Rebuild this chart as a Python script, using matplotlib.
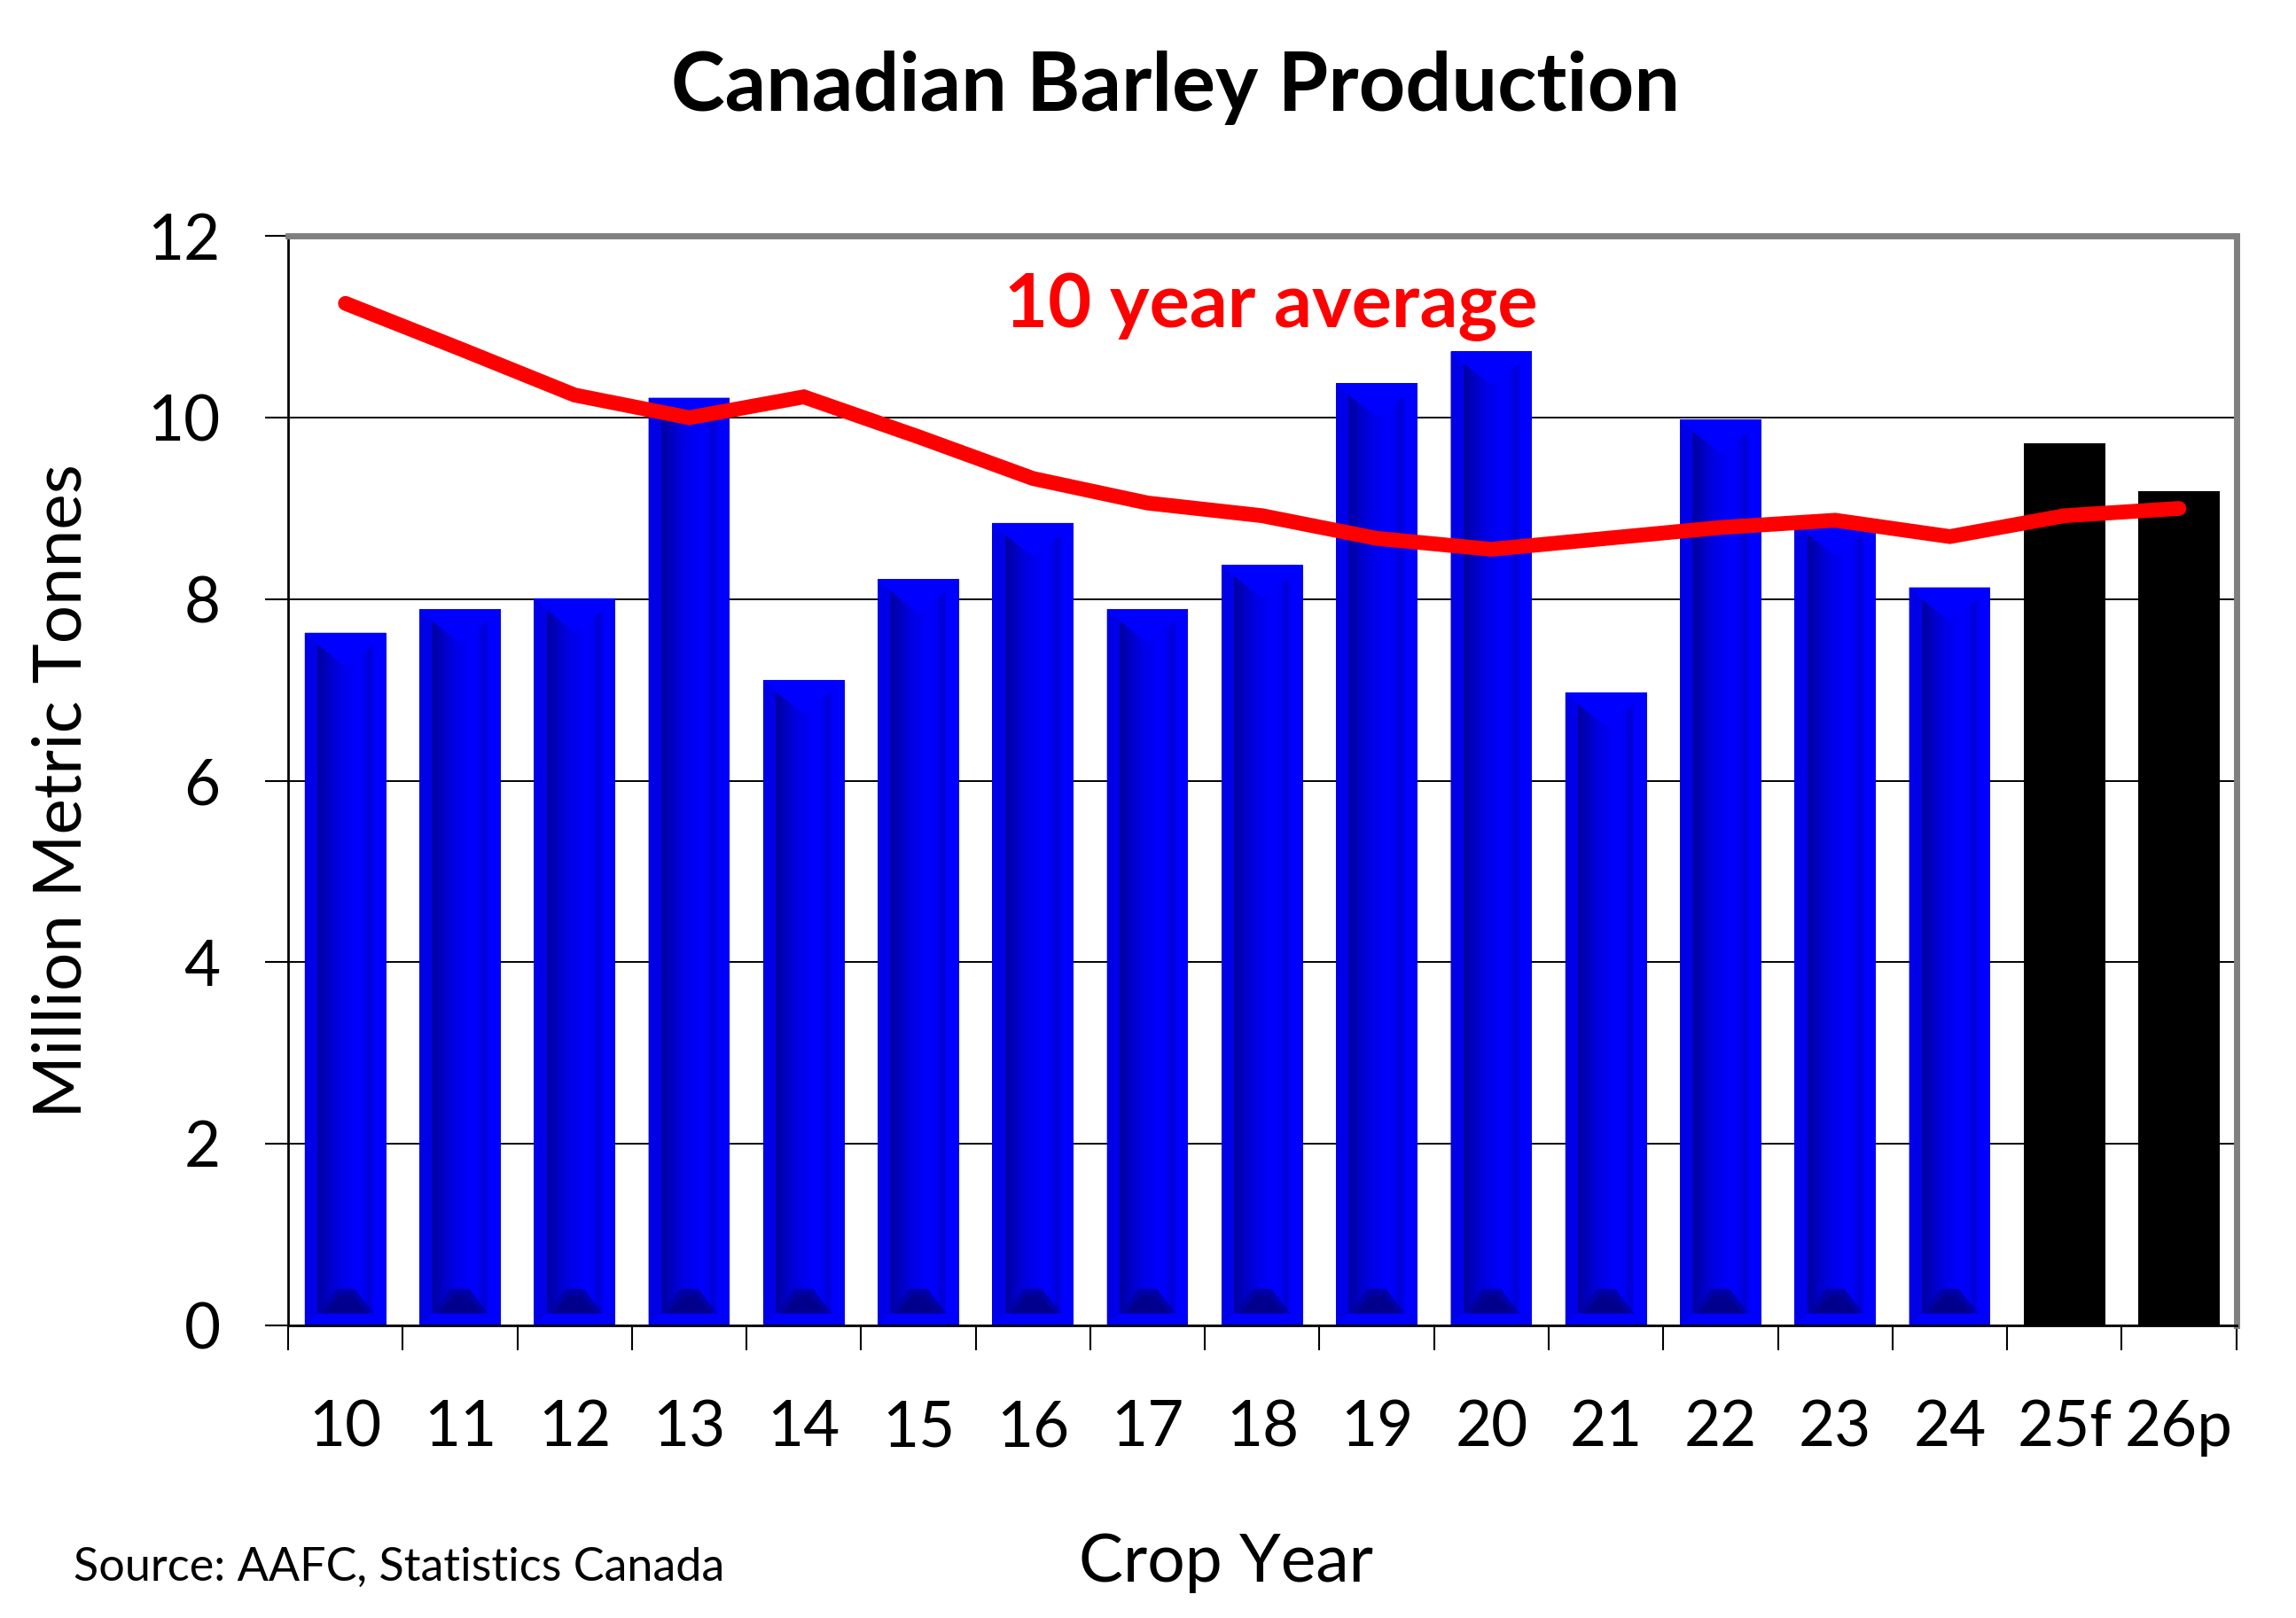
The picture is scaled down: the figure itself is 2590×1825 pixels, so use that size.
import numpy as np
import matplotlib
matplotlib.use("Agg")
import matplotlib.pyplot as plt
from matplotlib.colors import LinearSegmentedColormap

plt.rcParams['font.family'] = ['Lato', 'DejaVu Sans']

# data
years = ["10", "11", "12", "13", "14", "15", "16", "17", "18",
         "19", "20", "21", "22", "23", "24", "25f", "26p"]
production = [7.63, 7.89, 8.01, 10.22, 7.11, 8.22, 8.84, 7.89, 8.38,
              10.38, 10.73, 6.97, 9.98, 8.85, 8.13, 9.72, 9.19]
ten_yr_avg = [11.26, 10.76, 10.25, 10.0, 10.23, 9.79, 9.33, 9.06, 8.92,
              8.67, 8.55, 8.67, 8.79, 8.87, 8.69, 8.92, 9.0]
n_actual = 15   # first 15 are actuals (blue), rest forecast/projection (black)

fig = plt.figure(figsize=(25.9, 18.25), dpi=100)
ax = fig.add_axes([0.1255, 0.181, 0.8485, 0.673])

x = np.arange(len(years))
colors = ["#0000FF"] * n_actual + ["#000000"] * (len(years) - n_actual)
bars = ax.bar(x, production, width=0.71, color=colors, zorder=2)

# bevel look on the blue bars
face_cmap = LinearSegmentedColormap.from_list(
    "face", [(0, "#0000A0"), (0.35, "#0000E0"), (0.7, "#0000FF"),
             (0.85, "#0000F0"), (0.92, "#0000D0"), (1, "#0000F5")])
grad = np.linspace(0, 1, 256).reshape(1, -1)
for b in bars[:n_actual]:
    x0 = b.get_x()
    w = b.get_width()
    x1 = x0 + w
    xc = x0 + w / 2
    top = b.get_height()
    dx = 0.11
    dy = 0.13
    ax.imshow(grad, cmap=face_cmap, extent=(x0 + dx, x1 - dx, dy, top - dy),
              aspect="auto", zorder=3, interpolation="bilinear")
    # left outer bevel, a little darker
    ax.fill([x0, x0 + dx, x0 + dx, x0], [0, dy, top - dy, top],
            color="#0000E6", lw=0, zorder=3)
    # top bevel wedge
    ax.fill([x0, x1, x1 - dx, xc, x0 + dx],
            [top, top, top - dy, top - 0.37, top - dy],
            color="#0000FF", lw=0, zorder=4)
    # bottom pyramid
    ax.fill([x0 + dx, x1 - dx, xc + 0.08, xc - 0.08],
            [dy, dy, dy + 0.27, dy + 0.27],
            color="#0000A8", lw=0, zorder=4)
    ax.fill([x0 + dx + 0.05, x1 - dx - 0.05, xc + 0.05, xc - 0.05],
            [dy, dy, dy + 0.2, dy + 0.2],
            color="#00008C", lw=0, zorder=4)

ax.plot(x, ten_yr_avg, color="#FF0000", lw=12, solid_capstyle="round",
        solid_joinstyle="miter", zorder=5)
ax.text(8.08, 11.22, "10 year average", color="#FF0000", fontsize=61,
        fontweight="bold", ha="center", va="center", zorder=6)

ax.set_xlim(-0.5, len(years) - 0.5)
ax.set_ylim(0, 12)
ax.set_yticks(range(0, 13, 2))
ax.yaxis.grid(True, color="black", lw=1.4, zorder=0)
ax.set_axisbelow(True)

ax.set_xticks(x)
ax.set_xticklabels(years)
ax.set_xticks(np.arange(-0.5, len(years), 1), minor=True)
ax.tick_params(axis="x", which="major", length=0, pad=60, labelsize=51)
ax.tick_params(axis="x", which="minor", length=20, width=1.5, direction="out")
ax.tick_params(axis="y", length=19, width=1.5, pad=36, labelsize=51)

for s in ["top", "right"]:
    ax.spines[s].set_color("#808080")
    ax.spines[s].set_linewidth(5)
for s in ["left", "bottom"]:
    ax.spines[s].set_color("black")
    ax.spines[s].set_linewidth(2)

fig.text(0.512, 0.946, "Canadian Barley Production", fontsize=66,
         fontweight="bold", ha="center", va="center")
fig.text(0.027, 0.511, "Million Metric Tonnes", fontsize=55, rotation=90,
         ha="center", va="center")
fig.text(0.534, 0.034, "Crop Year", fontsize=54, ha="center", va="center")
fig.text(0.032, 0.031, "Source: AAFC, Statistics Canada", fontsize=37.5,
         ha="left", va="center")

fig.savefig("out.png", dpi=100)
